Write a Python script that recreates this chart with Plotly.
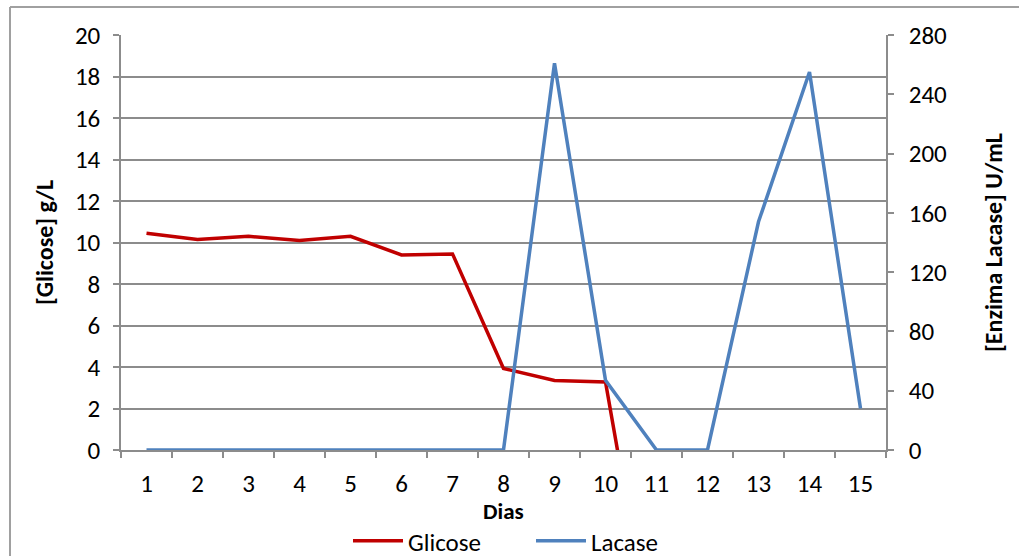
import plotly.graph_objects as go

dias = [str(d) for d in range(1, 16)]
glicose = [10.45, 10.15, 10.3, 10.1, 10.3, 9.4, 9.45, 3.93, 3.35, 3.28, -10.7]
lacase = [0, 0, 0, 0, 0, 0, 0, 0, 261, 47, 0, 0, 154, 255, 28]

FONT = "Carlito, Lato, Calibri, sans-serif"
GRID = "#8c8c8c"
TICK = 25
TTL = 24

fig = go.Figure()
fig.add_trace(go.Scatter(x=dias[:len(glicose)], y=glicose, name="Glicose", mode="lines",
                         line=dict(color="#C00000", width=3.5), yaxis="y"))
fig.add_trace(go.Scatter(x=dias, y=lacase, name="Lacase", mode="lines",
                         line=dict(color="#4F81BD", width=3.5), yaxis="y2"))

L, R, T, B = 121, 886, 35, 450
W, H = 1019, 556
def px(x):
    return (x - L) / (R - L)
def py(y):
    return (B - y) / (B - T)

fig.update_layout(
    width=W, height=H,
    margin=dict(l=L, r=W - R, t=T, b=H - B, pad=0, autoexpand=False),
    paper_bgcolor="white", plot_bgcolor="white",
    font=dict(family=FONT, size=TICK, color="black"),
    showlegend=True,
    legend=dict(orientation="h", xref="container", yref="container",
                x=348 / W, xanchor="left", y=(H - 541) / H, yanchor="middle",
                font=dict(size=TICK), itemwidth=50, entrywidth=118, entrywidthmode="pixels",
                tracegroupgap=0, bgcolor="rgba(0,0,0,0)"),
    xaxis=dict(type="category", categoryorder="array", categoryarray=dias,
               range=[-0.5, 14.5], showgrid=False, showline=True, linecolor=GRID, linewidth=1.5,
               ticks="outside", ticklen=6, tickcolor=GRID, tickwidth=1.5, tickson="boundaries",
               tickfont=dict(size=TICK), ticklabelstandoff=10, automargin=False,
               zeroline=False),
    yaxis=dict(range=[0, 20], dtick=2, showgrid=True, gridcolor=GRID, gridwidth=1.5,
               showline=True, linecolor=GRID, linewidth=1.5, ticks="outside", ticklen=6,
               tickcolor=GRID, tickwidth=1.5, tickfont=dict(size=TICK), ticklabelstandoff=8,
               automargin=False,
               title=dict(text="<b>[Glicose] g/L</b>", font=dict(size=TTL), standoff=15),
               zeroline=False),
    yaxis2=dict(range=[0, 280], dtick=40, overlaying="y", side="right", showgrid=False,
                showline=True, linecolor=GRID, linewidth=1.5, ticks="outside", ticklen=6,
                tickcolor=GRID, tickwidth=1.5, tickfont=dict(size=TICK), ticklabelstandoff=10,
                automargin=False,
                title=dict(text="<b>[Enzima Lacase] U/mL</b>", font=dict(size=TTL), standoff=39),
                zeroline=False),
    annotations=[
        dict(text="<b>Dias</b>", xref="paper", yref="paper", x=0.5, y=py(511),
             xanchor="center", yanchor="middle", showarrow=False, font=dict(size=TTL - 1)),
    ],
    shapes=[
        dict(type="line", xref="paper", yref="paper", x0=px(10), x1=px(1019), y0=py(7), y1=py(7),
             line=dict(color="#a0a0a0", width=2)),
        dict(type="line", xref="paper", yref="paper", x0=px(10), x1=px(10), y0=py(7), y1=py(556),
             line=dict(color="#a0a0a0", width=2)),
    ],
)

fig.write_html("out.html")
